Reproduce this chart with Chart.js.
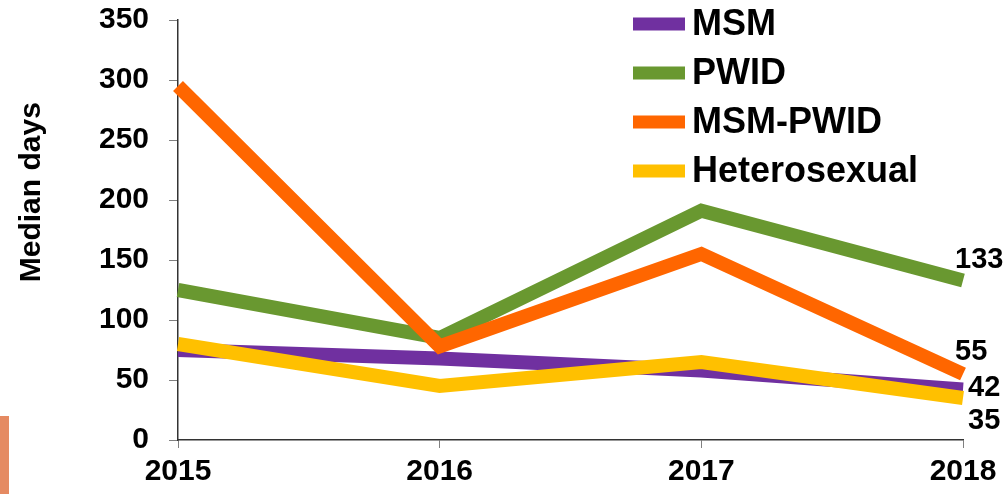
<!DOCTYPE html>
<html>
<head>
<meta charset="utf-8">
<script src="https://cdn.jsdelivr.net/npm/chart.js@4/dist/chart.umd.min.js"></script>
<style>
    body { margin: 0; background: #fff; }
    #wrap { position: relative; width: 1004px; height: 494px; }
    #bar { position: absolute; left: 0; top: 416px; width: 9px; height: 78px; background: #E58A62; }
</style>
</head>
<body>
<div id="wrap">
    <canvas id="myChart" width="1004" height="494"></canvas>
    <div id="bar"></div>
</div>
<script>
// data
var years = ['2015', '2016', '2017', '2018'];
var seriesNames = ['MSM', 'PWID', 'MSM-PWID', 'Heterosexual'];
var msm = [75, 68, 58, 42];
var pwid = [125, 85, 191, 133];
var msmPwid = [295, 78, 155, 55];
var hetero = [80, 45, 65, 35];
var yTicks = [0, 50, 100, 150, 200, 250, 300, 350];
var colors = ['#7030A0', '#699830', '#FF6600', '#FFC000'];

var font = '"Liberation Sans", Arial, sans-serif';

function makeSet(i, values, order) {
    return {
        label: seriesNames[i],
        data: values,
        borderColor: colors[i],
        backgroundColor: colors[i],
        borderWidth: 14,
        borderCapStyle: 'butt',
        borderJoinStyle: 'miter',
        pointRadius: 0,
        tension: 0,
        fill: false,
        order: order
    };
}

// y axis title, legend and end labels
var extras = {
    id: 'extras',
    afterDraw: function(chart) {
        var ctx = chart.ctx;
        var area = chart.chartArea;
        ctx.save();
        ctx.fillStyle = '#000';

        // axis title
        ctx.font = 'bold 30px ' + font;
        ctx.textAlign = 'center';
        ctx.textBaseline = 'middle';
        ctx.translate(32, area.top + (area.bottom - area.top) * 0.41);
        ctx.rotate(-Math.PI / 2);
        ctx.fillText('Median days', 0, 0);
        ctx.restore();

        // legend
        ctx.save();
        ctx.font = 'bold 36px ' + font;
        ctx.textAlign = 'left';
        ctx.textBaseline = 'middle';
        seriesNames.forEach(function(name, i) {
            var y = 24 + i * 49;
            ctx.fillStyle = colors[i];
            ctx.fillRect(633, y - 6.5, 52, 13);
            ctx.fillStyle = '#000';
            ctx.fillText(name, 692, y + 1);
        });
        ctx.restore();

        // value labels at the last year
        var shifts = [[5, -2], [-8, -20], [-8, -22], [5, 23]];
        ctx.save();
        ctx.font = 'bold 29px ' + font;
        ctx.textAlign = 'left';
        ctx.textBaseline = 'middle';
        ctx.fillStyle = '#000';
        chart.data.datasets.forEach(function(ds, i) {
            var meta = chart.getDatasetMeta(i);
            var pt = meta.data[meta.data.length - 1];
            var v = ds.data[ds.data.length - 1];
            ctx.fillText(String(v), pt.x + shifts[i][0], pt.y + shifts[i][1]);
        });
        ctx.restore();
    }
};

document.addEventListener('DOMContentLoaded', function() {
    var ctx = document.getElementById('myChart').getContext('2d');
    var myChart = new Chart(ctx, {
        type: 'line',
        data: {
            labels: years,
            datasets: [
                makeSet(0, msm, 4),
                makeSet(1, pwid, 3),
                makeSet(2, msmPwid, 2),
                makeSet(3, hetero, 1)
            ]
        },
        options: {
            responsive: false,
            animation: false,
            layout: { padding: { left: 0, right: 41, top: 20, bottom: 0 } },
            plugins: {
                legend: { display: false },
                tooltip: { enabled: false }
            },
            scales: {
                x: {
                    type: 'category',
                    offset: false,
                    grid: { drawOnChartArea: false, tickLength: 8, color: '#808080' },
                    border: { color: '#333', width: 1.5 },
                    ticks: {
                        color: '#000',
                        font: { family: font, size: 30, weight: 'bold' },
                        padding: 6,
                        maxRotation: 0
                    },
                    afterFit: function(s) { s.height = 54; s.paddingLeft = 0; s.paddingRight = 0; }
                },
                y: {
                    min: 0,
                    max: 350,
                    afterBuildTicks: function(s) {
                        s.ticks = yTicks.map(function(v) { return { value: v }; });
                    },
                    grid: { drawOnChartArea: false, tickLength: 9, color: '#808080' },
                    border: { color: '#333', width: 1.5 },
                    ticks: {
                        color: '#000',
                        font: { family: font, size: 30, weight: 'bold' },
                        padding: 20
                    },
                    afterFit: function(s) { s.width = 178; s.paddingTop = 0; s.paddingBottom = 0; }
                }
            }
        },
        plugins: [extras]
    });
});
</script>
</body>
</html>
